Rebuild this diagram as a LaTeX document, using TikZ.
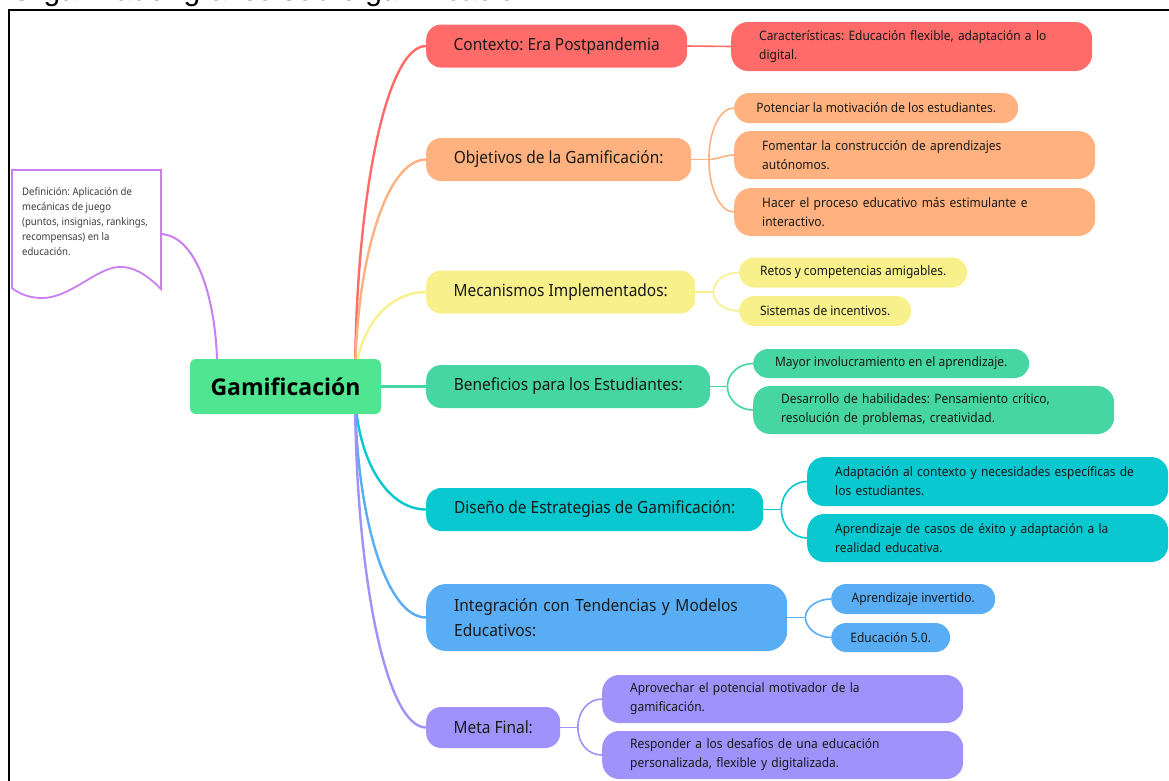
\documentclass[tikz,border=0pt]{standalone}
\usepackage{fontspec}
\setmainfont{Noto Sans}
\newfontfamily\boxfont{Noto Sans}[FakeStretch=0.92]
\newfontfamily\gamfont{Open Sans}
\newfontfamily\titlefont{Liberation Sans}
\usetikzlibrary{backgrounds}
\frenchspacing

\definecolor{cRed}{RGB}{255,107,104}
\definecolor{cOra}{RGB}{255,178,127}
\definecolor{cYel}{RGB}{248,241,139}
\definecolor{cGrn}{RGB}{69,214,163}
\definecolor{cCyan}{RGB}{10,200,207}
\definecolor{cBlue}{RGB}{88,173,245}
\definecolor{cPur}{RGB}{159,146,251}
\definecolor{cGam}{RGB}{80,229,144}
\definecolor{cDef}{RGB}{201,127,239}
\definecolor{textdark}{RGB}{25,25,25}
\definecolor{defgray}{RGB}{60,60,60}

\begin{document}
\begin{tikzpicture}[x=1pt,y=-1pt,
  base/.style={rounded corners=15pt, inner sep=0pt, text=textdark, anchor=west},
  mainbox/.style={base, font=\boxfont\fontsize{16.8}{25}\selectfont, minimum height=43pt},
  subbox/.style={base, font=\boxfont\fontsize{13}{19}\selectfont, minimum height=30pt},
  multi/.style={align=left, text width=305pt, inner xsep=28pt, minimum height=48pt, rounded corners=17pt},
  branch/.style={line width=2.4pt},
  twig/.style={line width=1.6pt},
]
\useasboundingbox (0,0) rectangle (1169,780);
\clip (0,0) rectangle (1169,780);

% title line, mostly cut off by the page edge
\node[anchor=base west, inner sep=0, font=\titlefont\fontsize{30}{30}\selectfont] (title) at (10,0.5) {Organizador gráfico sobre gamificación};

% frame
\draw[line width=2pt] (8.5,790) -- (8.5,9.5) -- (1175,9.5);

% definition note with wavy bottom
\draw[cDef, line width=1.8pt, fill=white] (12,170) -- (161,170) -- (161,289)
  .. controls (145,273) and (132,266) .. (118,267)
  .. controls (95,269) and (70,298) .. (42,298)
  .. controls (28,298) and (18,293) .. (12,288) -- cycle;
\node[anchor=north west, align=left, inner sep=0, text=defgray,
      font=\boxfont\fontsize{10.4}{15}\selectfont] (def) at (22,187.5)
  {Definición: Aplicación de\\mecánicas de juego\\(puntos, insignias, rankings,\\recompensas) en la\\educación.};
\coordinate (defR) at (161,234);

% central topic
\node[fill=cGam, rounded corners=6pt, minimum width=191pt, minimum height=55pt, inner sep=0,
      text=black, font=\gamfont\bfseries\fontsize{23}{23}\selectfont] (gam) at (285.5,386.5) {Gamificación};
\coordinate (hub) at (355,386.5);

% Contexto
\node[mainbox, fill=cRed, minimum width=261pt] (ctx) at (426,46) {Contexto: Era Postpandemia};
\node[subbox, multi, fill=cRed, minimum height=49pt] (ctxA) at (731,46.5)
  {\mbox{Características: Educación flexible, adaptación a lo}\\digital.};

% Objetivos
\node[mainbox, fill=cOra, minimum width=265pt] (obj) at (426,159.5) {Objetivos de la Gamificación:};
\node[subbox, fill=cOra, minimum width=284pt] (objA) at (734,108) {Potenciar la motivación de los estudiantes.};
\node[subbox, multi, fill=cOra] (objB) at (734,155) {\mbox{Fomentar la construcción de aprendizajes}\\autónomos.};
\node[subbox, multi, fill=cOra] (objC) at (734,212) {\mbox{Hacer el proceso educativo más estimulante e}\\interactivo.};

% Mecanismos
\node[mainbox, fill=cYel, minimum width=269pt] (mec) at (426,292) {Mecanismos Implementados:};
\node[subbox, fill=cYel, minimum width=228pt] (mecA) at (739,272.5) {Retos y competencias amigables.};
\node[subbox, fill=cYel, minimum width=172pt] (mecB) at (739,311) {Sistemas de incentivos.};

% Beneficios
\node[mainbox, fill=cGrn, minimum width=284pt] (ben) at (426,386.5) {Beneficios para los Estudiantes:};
\node[subbox, fill=cGrn, minimum width=276pt, minimum height=29pt] (benA) at (753,363.5) {Mayor involucramiento en el aprendizaje.};
\node[subbox, multi, fill=cGrn] (benB) at (753,410) {\mbox{Desarrollo de habilidades: Pensamiento crítico,}\\\mbox{resolución de problemas, creatividad.}};

% Diseño
\node[mainbox, fill=cCyan, minimum width=337pt] (dis) at (426,509.5) {Diseño de Estrategias de Gamificación:};
\node[subbox, multi, fill=cCyan, minimum height=49pt] (disA) at (807,481.5) {\mbox{Adaptación al contexto y necesidades específicas de}\\los estudiantes.};
\node[subbox, multi, fill=cCyan] (disB) at (807,538) {\mbox{Aprendizaje de casos de éxito y adaptación a la}\\realidad educativa.};

% Integración
\node[mainbox, multi, fill=cBlue, minimum height=67pt, rounded corners=20pt] (int) at (426,617.5)
  {\mbox{Integración con Tendencias y Modelos}\\Educativos:};
\node[subbox, fill=cBlue, minimum width=164pt] (intA) at (831,599) {Aprendizaje invertido.};
\node[subbox, fill=cBlue, minimum width=119pt, minimum height=29pt] (intB) at (831,637.5) {Educación 5.0.};

% Meta final
\node[mainbox, fill=cPur, minimum width=134pt, minimum height=41pt] (meta) at (426,727.5) {Meta Final:};
\node[subbox, multi, fill=cPur] (metaA) at (602,699) {\mbox{Aprovechar el potencial motivador de la}\\gamificación.};
\node[subbox, multi, fill=cPur] (metaB) at (602,755) {\mbox{Responder a los desafíos de una educación}\\\mbox{personalizada, flexible y digitalizada.}};

\begin{pgfonlayer}{background}
  \fill[white] (0,0) rectangle (1169,780);

  % note to central topic
  \draw[cDef, line width=2pt] (defR) .. controls +(36,2) and +(-2,-60) .. ([xshift=-68.5pt]gam.north);

  % main branches
  \draw[branch, cRed]  (hub) .. controls +(0,-187) and +(-40,0) .. (ctx.west);
  \draw[branch, cOra]  (hub) .. controls +(0,-125) and +(-40,0) .. (obj.west);
  \draw[branch, cYel]  (hub) .. controls +(0,-55) and +(-40,0) .. (mec.west);
  \draw[branch, cGrn]  (hub) -- (ben.west);
  \draw[branch, cCyan] (hub) .. controls +(0,70) and +(-40,0) .. (dis.west);
  \draw[branch, cBlue] (hub) .. controls +(0,128) and +(-40,0) .. (int.west);
  \draw[branch, cPur]  (hub) .. controls +(0,188) and +(-40,0) .. (meta.west);

  % Contexto
  \draw[twig, cRed] (ctx.east) -- (ctxA.west);

  % Objetivos
  \coordinate (objJ) at ([xshift=17.5pt]obj.east);
  \draw[twig, cOra] (obj.east) -- (objJ);
  \draw[twig, cOra] (objJ) .. controls +(0,-29) and +(-14,0) .. (objA.west);
  \draw[twig, cOra] (objJ) .. controls +(8,0) and +(-10,0) .. (objB.west);
  \draw[twig, cOra] (objJ) .. controls +(0,29) and +(-14,0) .. (objC.west);

  % Mecanismos
  \coordinate (mecJ) at ([xshift=18pt]mec.east);
  \draw[twig, cYel] (mec.east) -- (mecJ);
  \draw[twig, cYel] (mecJ) .. controls +(0,-11) and +(-14,0) .. (mecA.west);
  \draw[twig, cYel] (mecJ) .. controls +(0,11) and +(-14,0) .. (mecB.west);

  % Beneficios
  \coordinate (benJ) at ([xshift=17pt]ben.east);
  \draw[twig, cGrn] (ben.east) -- (benJ);
  \draw[twig, cGrn] (benJ) .. controls +(0,-13) and +(-14,0) .. (benA.west);
  \draw[twig, cGrn] (benJ) .. controls +(0,13) and +(-14,0) .. (benB.west);

  % Diseño
  \coordinate (disJ) at ([xshift=18pt]dis.east);
  \draw[twig, cCyan] (dis.east) -- (disJ);
  \draw[twig, cCyan] (disJ) .. controls +(0,-16) and +(-14,0) .. (disA.west);
  \draw[twig, cCyan] (disJ) .. controls +(0,16) and +(-14,0) .. (disB.west);

  % Integración
  \coordinate (intJ) at ([xshift=18pt]int.east);
  \draw[twig, cBlue] (int.east) -- (intJ);
  \draw[twig, cBlue] (intJ) .. controls +(0,-10) and +(-14,0) .. (intA.west);
  \draw[twig, cBlue] (intJ) .. controls +(0,10) and +(-14,0) .. (intB.west);

  % Meta final
  \coordinate (metaJ) at ([xshift=17.5pt]meta.east);
  \draw[twig, cPur] (meta.east) -- (metaJ);
  \draw[twig, cPur] (metaJ) .. controls +(0,-16) and +(-14,0) .. (metaA.west);
  \draw[twig, cPur] (metaJ) .. controls +(0,16) and +(-14,0) .. (metaB.west);
\end{pgfonlayer}
\end{tikzpicture}
\end{document}
